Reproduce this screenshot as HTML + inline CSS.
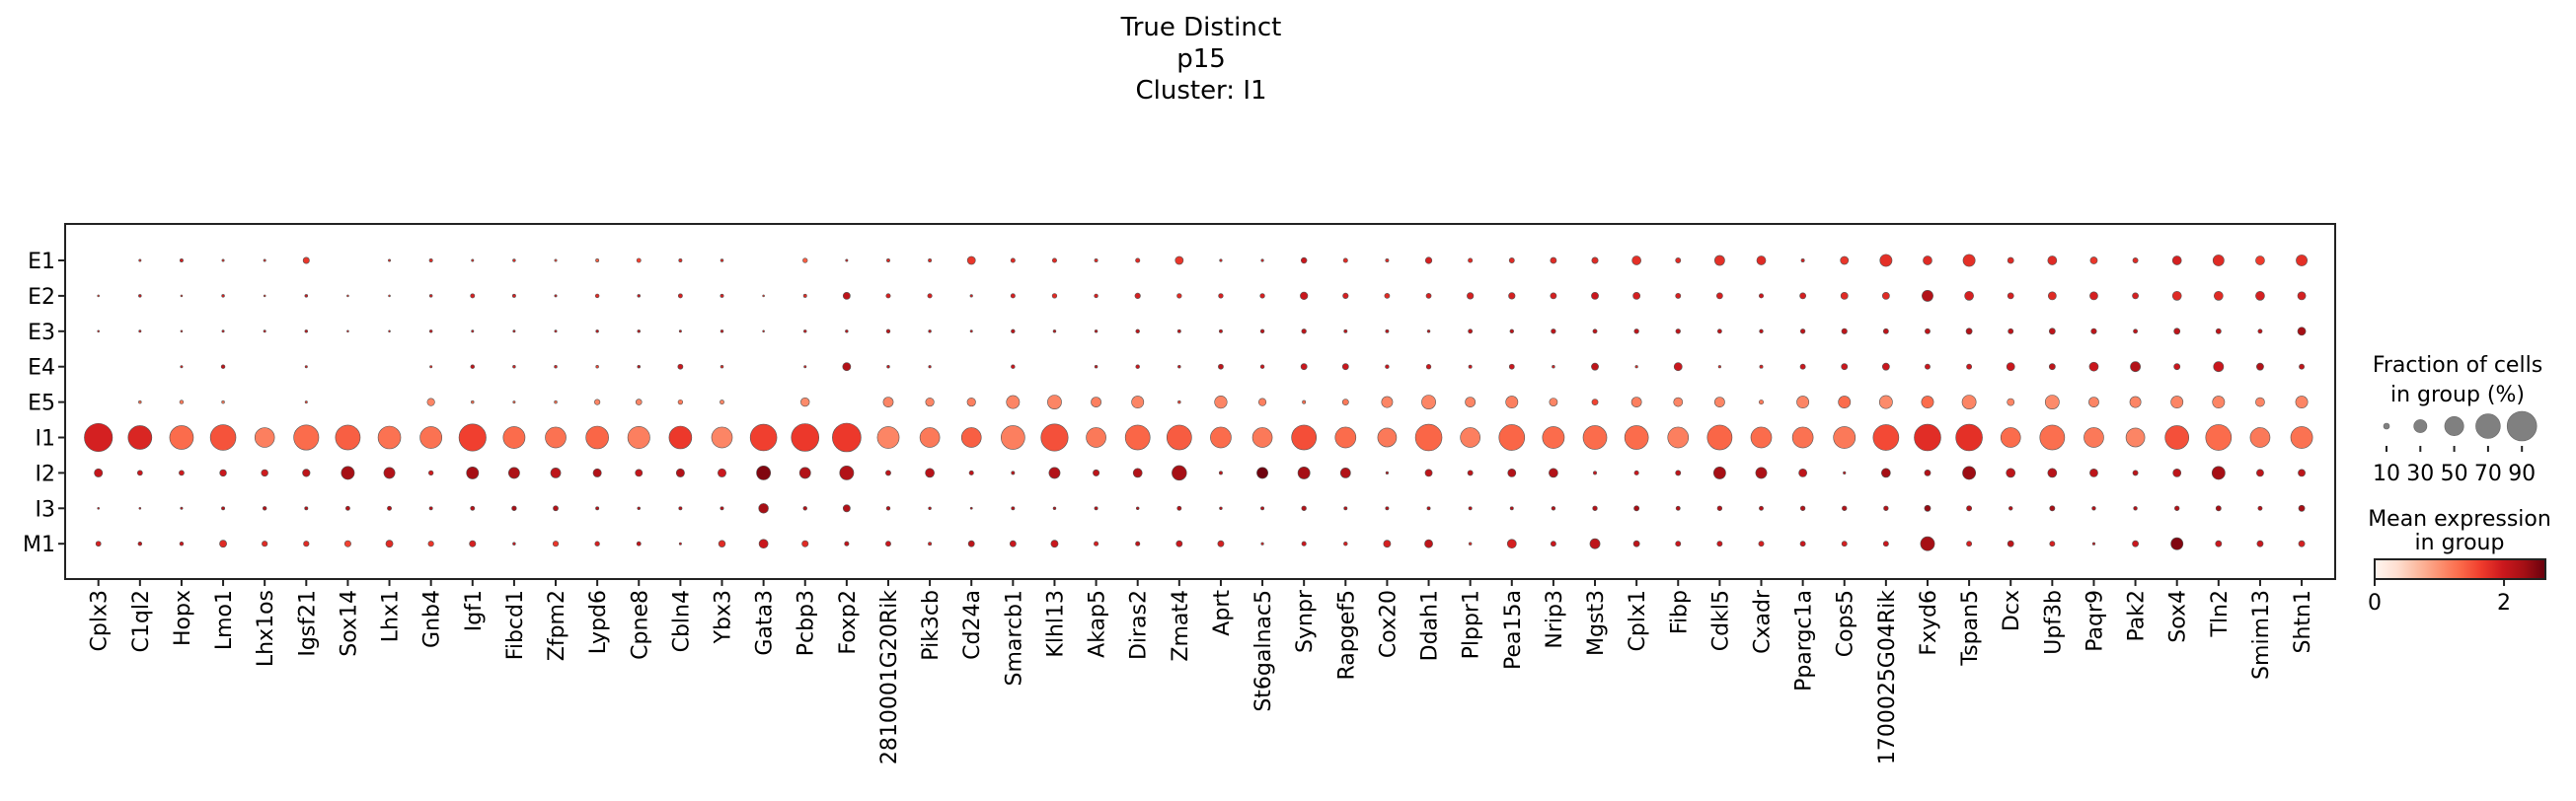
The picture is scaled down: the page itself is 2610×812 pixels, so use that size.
<!DOCTYPE html>
<html><head><meta charset="utf-8">
<style>
html,body{margin:0;padding:0;background:#fff;}
svg{display:block;font-family:"DejaVu Sans","Liberation Sans",sans-serif;}
</style></head>
<body>
<svg id="chart" width="2610" height="812" viewBox="0 0 2610 812" xmlns="http://www.w3.org/2000/svg">
<g font-size="26" text-anchor="middle" fill="#000">
<text x="1217" y="36">True Distinct</text>
<text x="1217" y="68">p15</text>
<text x="1217" y="100">Cluster: I1</text>
</g>
<g id="plot"></g>
<g id="legend"></g>
</svg>
<script>
const genes = ["Cplx3","C1ql2","Hopx","Lmo1","Lhx1os","Igsf21","Sox14","Lhx1","Gnb4","Igf1","Fibcd1","Zfpm2","Lypd6","Cpne8","Cbln4","Ybx3","Gata3","Pcbp3","Foxp2","2810001G20Rik","Pik3cb","Cd24a","Smarcb1","Klhl13","Akap5","Diras2","Zmat4","Aprt","St6galnac5","Synpr","Rapgef5","Cox20","Ddah1","Plppr1","Pea15a","Nrip3","Mgst3","Cplx1","Fibp","Cdkl5","Cxadr","Ppargc1a","Cops5","1700025G04Rik","Fxyd6","Tspan5","Dcx","Upf3b","Paqr9","Pak2","Sox4","Tln2","Smim13","Shtn1"];
const groups = ["E1","E2","E3","E4","E5","I1","I2","I3","M1"];

const fracE1 = [0,0.02,0.04,0.02,0.02,0.11,0,0.02,0.04,0.02,0.03,0.02,0.04,0.06,0.04,0.03,0,0.07, 0.02,0.04,0.04,0.155,0.064,0.064,0.04,0.064,0.155,0.024,0.024,0.095,0.064,0.04,0.115,0.064,0.083,0.105, 0.11,0.18,0.083,0.21,0.18,0.04,0.155,0.27,0.18,0.27,0.105,0.18,0.13,0.083,0.18,0.24,0.18,0.24];
const fracE2 = [0.01,0.03,0.01,0.03,0.01,0.03,0.01,0.01,0.03,0.06,0.04,0.02,0.05,0.03,0.06,0.04,0.01,0.04, 0.13,0.064,0.064,0.024,0.064,0.07,0.05,0.09,0.07,0.07,0.07,0.14,0.09,0.08,0.08,0.115,0.115,0.105, 0.13,0.13,0.083,0.105,0.064,0.105,0.13,0.13,0.24,0.18,0.105,0.155,0.155,0.105,0.18,0.18,0.18,0.155];
const fracE3 = [0.01,0.02,0.01,0.02,0.02,0.03,0.01,0.01,0.03,0.02,0.02,0.02,0.03,0.03,0.02,0.03,0.01,0.03, 0.03,0.05,0.03,0.02,0.05,0.03,0.03,0.05,0.04,0.04,0.05,0.07,0.04,0.04,0.03,0.06,0.05,0.07, 0.06,0.07,0.07,0.06,0.05,0.07,0.09,0.083,0.083,0.105,0.083,0.105,0.09,0.06,0.105,0.083,0.06,0.155];
const fracE4 = [0,0,0.02,0.05,0,0.02,0,0,0.02,0.05,0.03,0.03,0.03,0.03,0.08,0.03,0,0.02, 0.155,0.03,0.024,0,0.05,0,0.03,0.05,0.03,0.08,0.05,0.105,0.105,0.05,0.07,0.04,0.08,0.03, 0.13,0.024,0.155,0.024,0.04,0.083,0.105,0.13,0.083,0.083,0.155,0.105,0.18,0.21,0.105,0.21,0.13,0.083];
const fracE5 = [0,0.03,0.05,0.03,0,0.02,0,0,0.14,0.03,0.02,0.03,0.09,0.1,0.07,0.06,0,0.17, 0,0.21,0.165,0.165,0.3,0.33,0.21,0.27,0.03,0.28,0.14,0.04,0.105,0.24,0.33,0.21,0.27,0.155, 0.105,0.21,0.18,0.21,0.064,0.27,0.27,0.3,0.27,0.33,0.13,0.33,0.21,0.24,0.27,0.27,0.18,0.27];
const fracI1 = [0.84,0.67,0.67,0.74,0.52,0.72,0.71,0.63,0.60,0.80,0.60,0.56,0.63,0.61,0.63,0.56,0.78,0.82, 0.86,0.6,0.525,0.525,0.67,0.80,0.525,0.71,0.71,0.56,0.525,0.71,0.56,0.49,0.78,0.525,0.745,0.6, 0.67,0.67,0.56,0.71,0.56,0.56,0.6,0.745,0.78,0.78,0.525,0.71,0.525,0.49,0.67,0.745,0.525,0.6];
const fracI2 = [0.16,0.08,0.08,0.12,0.12,0.14,0.30,0.24,0.07,0.27,0.24,0.21,0.16,0.13,0.16,0.16,0.33,0.24, 0.33,0.083,0.18,0.064,0.04,0.24,0.11,0.18,0.35,0.04,0.24,0.27,0.21,0.024,0.13,0.083,0.155,0.18, 0.04,0.064,0.083,0.27,0.24,0.155,0.024,0.18,0.105,0.3,0.18,0.18,0.155,0.083,0.155,0.3,0.13,0.13];
const fracI3 = [0.01,0.01,0.02,0.04,0.05,0.04,0.06,0.06,0.04,0.06,0.07,0.08,0.04,0.03,0.04,0.04,0.2,0.05, 0.13,0.05,0.03,0.015,0.04,0.03,0.04,0.03,0.06,0.03,0.04,0.07,0.04,0.04,0.04,0.04,0.04,0.05, 0.07,0.083,0.06,0.07,0.06,0.07,0.07,0.07,0.105,0.083,0.05,0.083,0.05,0.05,0.07,0.083,0.06,0.105];
const fracM1 = [0.08,0.05,0.05,0.13,0.09,0.09,0.11,0.13,0.09,0.11,0.03,0.09,0.07,0.06,0.02,0.12,0.18,0.11, 0.064,0.083,0.04,0.105,0.105,0.13,0.064,0.064,0.105,0.105,0.024,0.064,0.05,0.13,0.155,0.03,0.18,0.083, 0.21,0.105,0.083,0.083,0.083,0.083,0.083,0.083,0.33,0.083,0.105,0.083,0.024,0.105,0.27,0.105,0.105,0.105];

const exprE1 = [0,1.8,1.9,1.8,1.8,1.7,0,1.8,1.8,1.8,1.8,1.6,1.4,1.6,1.8,1.8,0,1.4, 1.9,1.8,1.8,1.7,1.8,1.8,1.8,1.8,1.7,1.9,1.9,2.0,1.8,1.8,1.9,1.8,1.8,1.8, 1.8,1.75,1.8,1.75,1.8,1.9,1.7,1.75,1.8,1.75,1.8,1.8,1.7,1.8,1.9,1.8,1.65,1.75];
const exprE2 = [1.7,2.0,1.7,1.9,1.7,2.0,1.7,1.7,1.9,1.9,1.9,2.0,1.8,2.0,1.9,1.9,1.7,1.8, 2.1,1.9,1.9,1.9,1.9,1.8,1.9,1.9,1.8,1.9,1.9,2.0,1.9,1.8,1.9,1.9,1.9,1.9, 2.0,1.9,1.9,1.9,2.0,1.9,1.8,1.8,2.2,1.9,1.9,1.8,1.9,1.9,1.8,1.8,1.9,1.9];
const exprE3 = [1.9,2.0,1.9,2.0,2.0,2.1,1.9,1.9,2.0,2.0,2.1,2.0,2.1,2.1,2.1,2.0,1.9,2.0, 2.1,2.1,2.1,2.0,2.1,2.1,2.1,2.1,2.1,2.1,2.1,2.1,2.1,2.1,2.1,2.1,2.1,2.1, 2.1,2.1,2.1,2.1,2.1,2.1,2.1,2.1,2.1,2.2,2.1,2.1,2.1,2.1,2.1,2.1,2.1,2.3];
const exprE4 = [0,0,1.9,2.1,0,1.9,0,0,1.8,2.1,1.9,1.9,1.6,2.1,2.0,1.8,0,1.9, 2.2,2.0,2.0,0,2.0,0,2.0,2.0,2.0,2.1,2.0,2.0,2.0,2.0,2.0,2.0,2.0,1.9, 2.1,1.8,2.0,1.8,1.9,2.0,2.0,2.0,2.0,2.0,2.0,2.1,2.0,2.2,2.0,2.0,2.2,2.1];
const exprE5 = [0,1.3,1.2,1.2,0,1.6,0,0,1.1,1.3,1.4,1.3,1.1,1.1,1.2,1.1,0,1.05, 0,1.1,1.1,1.15,1.1,1.1,1.15,1.1,1.6,1.1,1.15,1.3,1.2,1.1,1.1,1.1,1.15,1.1, 1.6,1.15,1.1,1.1,1.2,1.1,1.3,1.05,1.3,1.1,1.1,1.05,1.1,1.1,1.1,1.1,1.1,1.1];
const exprI1 = [1.9,1.85,1.3,1.48,1.15,1.3,1.4,1.25,1.25,1.62,1.3,1.25,1.35,1.15,1.68,1.1,1.62,1.68, 1.68,1.1,1.2,1.4,1.15,1.5,1.2,1.35,1.42,1.3,1.2,1.52,1.3,1.2,1.35,1.15,1.35,1.3, 1.3,1.3,1.15,1.35,1.3,1.25,1.2,1.55,1.78,1.75,1.3,1.28,1.2,1.1,1.5,1.3,1.2,1.25];
const exprI2 = [2.05,2.0,1.95,2.0,1.95,2.1,2.3,2.2,1.95,2.3,2.25,2.1,2.2,2.05,2.2,2.0,2.5,2.2, 2.2,2.1,2.15,2.1,2.1,2.2,2.1,2.2,2.3,2.1,2.6,2.3,2.2,2.1,2.1,2.1,2.2,2.2, 2.0,2.0,2.1,2.3,2.25,2.1,2.0,2.3,2.2,2.35,2.1,2.15,2.1,2.1,2.1,2.3,2.1,2.1];
const exprI3 = [2.0,2.0,2.1,2.2,2.2,2.2,2.2,2.2,2.2,2.2,2.3,2.2,2.2,2.2,2.2,2.2,2.3,2.2, 2.2,2.2,2.2,2.2,2.2,2.2,2.2,2.2,2.2,2.2,2.2,2.2,2.2,2.2,2.2,2.2,2.2,2.2, 2.2,2.3,2.2,2.2,2.2,2.2,2.2,2.2,2.4,2.2,2.2,2.3,2.2,2.2,2.2,2.3,2.2,2.3];
const exprM1 = [1.9,2.1,2.0,1.8,1.8,1.8,1.6,1.8,1.7,1.9,2.0,1.7,1.9,2.1,2.0,1.8,2.0,1.8, 2.1,2.0,1.9,2.1,2.0,2.0,1.9,2.1,2.0,1.9,1.9,2.0,1.9,1.9,2.1,1.8,1.9,2.0, 2.1,2.1,2.0,2.0,1.9,2.0,1.9,2.0,2.3,1.9,2.1,1.9,2.0,2.0,2.5,2.0,2.0,1.9];

const legendFracs = [10,30,50,70,90];
const cbarTicks = [0,2];
const vmax = 2.64;

const fracRows = [fracE1,fracE2,fracE3,fracE4,fracE5,fracI1,fracI2,fracI3,fracM1];
const exprRows = [exprE1,exprE2,exprE3,exprE4,exprE5,exprI1,exprI2,exprI3,exprM1];

const NS = "http://www.w3.org/2000/svg";
function mk(tag, attrs, parent){const e=document.createElementNS(NS,tag);for(const k in attrs)e.setAttribute(k,attrs[k]);parent.appendChild(e);return e;}

const L=66,R=2366,T=227,B=587;
const xOf = i => 99.7 + 42.12*i;
const yOf = j => 264 + 35.9*j;
const rOf = f => Math.sqrt(262.6*Math.pow(f,1.5)+0.7);
const stops=[[255,245,240],[254,224,210],[252,187,161],[252,146,114],[251,106,74],[239,59,44],[203,24,29],[165,15,21],[103,0,13]];
function reds(t){t=Math.max(0,Math.min(1,t));const p=t*8;const i=Math.min(7,Math.floor(p));const u=p-i;const a=stops[i],b=stops[i+1];return `rgb(${Math.round(a[0]+(b[0]-a[0])*u)},${Math.round(a[1]+(b[1]-a[1])*u)},${Math.round(a[2]+(b[2]-a[2])*u)})`;}

const plot=document.getElementById('plot');
for(let j=0;j<groups.length;j++){
  for(let i=0;i<genes.length;i++){
    const f=fracRows[j][i]; if(!f) continue;
    const c=mk('circle',{cx:xOf(i),cy:yOf(j),r:rOf(f),fill:reds(exprRows[j][i]/vmax),stroke:'#555','stroke-width':0.6},plot);
    
    
  }
}
const frame=mk('rect',{x:L,y:T,width:R-L,height:B-T,fill:'none',stroke:'#222','stroke-width':2},plot);


for(let j=0;j<groups.length;j++){
  const y=yOf(j);
  mk('line',{x1:L-7,x2:L,y1:y,y2:y,stroke:'#222','stroke-width':2},plot);
  const t=mk('text',{x:L-10,y:y+8,'font-size':22,'text-anchor':'end',fill:'#000'},plot);
  t.textContent=groups[j];
  
  
}
for(let i=0;i<genes.length;i++){
  const x=xOf(i);
  mk('line',{x1:x,x2:x,y1:B,y2:B+7,stroke:'#222','stroke-width':2},plot);
  const t=mk('text',{x:0,y:0,'font-size':22,'text-anchor':'end',fill:'#000',transform:`translate(${x+8},${B+11}) rotate(-90)`},plot);
  t.textContent=genes[i];
  
  
}
const lg=document.getElementById('legend');
const lt1=mk('text',{x:2490,y:377,'font-size':22,'text-anchor':'middle'},lg); lt1.textContent='Fraction of cells';


const lt2=mk('text',{x:2490,y:407,'font-size':22,'text-anchor':'middle'},lg); lt2.textContent='in group (%)';


for(let k=0;k<legendFracs.length;k++){
  const x=2418+34.3*k;
  const c=mk('circle',{cx:x,cy:432,r:rOf(legendFracs[k]/100),fill:'#808080',stroke:'#666','stroke-width':0.6},lg);
  
  
  mk('line',{x1:x,x2:x,y1:452,y2:458,stroke:'#222','stroke-width':2},lg);
  const t=mk('text',{x:x,y:487,'font-size':22,'text-anchor':'middle'},lg); t.textContent=legendFracs[k];
  
  
}
const ct1=mk('text',{x:2492,y:533,'font-size':22,'text-anchor':'middle'},lg); ct1.textContent='Mean expression';


const ct2=mk('text',{x:2492,y:557,'font-size':22,'text-anchor':'middle'},lg); ct2.textContent='in group';


const defs=mk('defs',{},lg);
const grad=mk('linearGradient',{id:'redsg',x1:0,x2:1,y1:0,y2:0},defs);
for(let s=0;s<=16;s++){mk('stop',{offset:(s/16),'stop-color':reds(s/16)},grad);}
const cbX0=2406,cbX1=2579;
const cb=mk('rect',{x:cbX0,y:567,width:cbX1-cbX0,height:20,fill:'url(#redsg)',stroke:'#222','stroke-width':2},lg);


for(const v of cbarTicks){
  const x=cbX0+(cbX1-cbX0)*v/vmax;
  mk('line',{x1:x,x2:x,y1:587,y2:594,stroke:'#222','stroke-width':2},lg);
  const t=mk('text',{x:x,y:618,'font-size':22,'text-anchor':'middle'},lg); t.textContent=v;
  
  
}
</script>
</body></html>
